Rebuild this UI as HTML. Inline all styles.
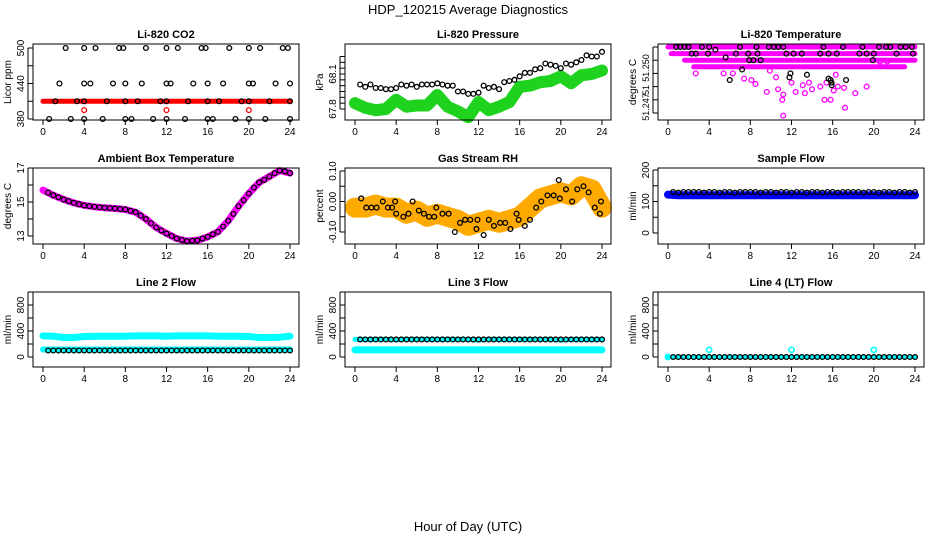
<!DOCTYPE html>
<html><head><meta charset="utf-8"><style>
html,body{margin:0;padding:0;background:#fff;}
svg{display:block;font-family:"Liberation Sans",Arial,sans-serif;}
</style></head><body>
<svg id="chart" width="936" height="540" viewBox="0 0 936 540" xmlns="http://www.w3.org/2000/svg">
<text x="468" y="14" text-anchor="middle" font-size="13">HDP_120215  Average Diagnostics</text>
<text x="468" y="531" text-anchor="middle" font-size="13">Hour of Day (UTC)</text>
</svg>
<script>
// ---- data ----
var xTicks = [0,4,8,12,16,20,24];
var circH = [0.5,1,1.5,2,2.5,3,3.5,4,4.5,5,5.5,6,6.5,7,7.5,8,8.5,9,9.5,10,10.5,11,11.5,12,12.5,13,13.5,14,14.5,15,15.5,16,16.5,17,17.5,18,18.5,19,19.5,20,20.5,21,21.5,22,22.5,23,23.5,24];
var bandH = [0,1,2,3,4,5,6,7,8,9,10,11,12,13,14,15,16,17,18,19,20,21,22,23,24];

// CO2
var co2Red = [410,410,410,410,410,410,410,410,410,410,410,410,410,410,410,410,410,410,410,410,410,410,410,410,410];
var co2RedPtsH = [4,12,20];
var co2RedPtsV = [395,395,395];
var co2BlkH = [2.2,4,5.1,7.4,7.8,10,12,13.1,15.4,15.8,18.1,20,21.1,23.3,23.8, 1.6,4,4.6,6.8,8,9.6,12,12.4,14.6,16,17.5,20,20.4,22.6,24, 1.2,3.3,4,6.2,8,9.2,11.4,12,14.1,16,17.1,19.3,20,22,24, 0.6,2.7,4,5.8,8,8.6,10.7,12,13.8,16,16.5,18.7,20,21.6,24];
var co2BlkV = [500,500,500,500,500,500,500,500,500,500,500,500,500,500,500, 440,440,440,440,440,440,440,440,440,440,440,440,440,440,440, 410,410,410,410,410,410,410,410,410,410,410,410,410,410,410, 380,380,380,380,380,380,380,380,380,380,380,380,380,380,380];

// Pressure
var presGreen = [67.85,67.81,67.79,67.80,67.88,67.82,67.83,67.83,67.92,67.82,67.78,67.73,67.86,67.79,67.82,67.86,67.99,68.00,68.03,68.04,68.08,68.02,68.09,68.10,68.13];
var presBlkH = [0.5,1,1.5,2,2.5,3,3.5,4,4.5,5,5.5,6,6.5,7,7.5,8,8.5,9,9.5,10,10.5,11,11.5,12,12.5,13,13.5,14,14.5,15,15.5,16,16.5,17,17.5,18,18.5,19,19.5,20,20.5,21,21.5,22,22.5,23,23.5,24];
var presBlkV = [68.01,67.99,68.01,67.98,67.98,67.97,67.97,67.98,68.01,68.00,68.01,67.99,68.01,68.01,68.01,68.02,68.01,68.00,68.00,67.95,67.95,67.93,67.93,67.94,68.00,67.98,67.99,67.97,68.03,68.04,68.05,68.08,68.11,68.11,68.14,68.15,68.19,68.18,68.17,68.15,68.19,68.18,68.20,68.22,68.26,68.25,68.25,68.29];

// Li-820 temperature (index units: tick 0..5)
var tRowH0 = [0,0.3,1.6,2.5];
var tRowH1 = [24,24,24,23];
var tRowV = [5,4.5,4,3.5];
var tMagH = [2.7,6.3,8.1,8.5,9.6,10.5,10.7,11.2,11.1,12.4,13.1,13.3,13.7,14.8,15.2,15.8,16.5,16.1,17.1,18.2,19.3,17.2,11.2,16.3,15.4,9.9,7.4,14.0,12.0,5.4,20.6,21.3];
var tMagV = [3.0,3.0,2.5,2.2,1.6,2.7,1.8,1.4,1.0,1.6,2.1,1.5,2.3,2.0,1.0,1.0,2.0,1.7,1.9,1.5,2.0,0.4,-0.2,2.9,2.3,3.2,2.6,1.8,2.3,3.0,3.9,3.9];
var tBlkH = [0.8,1.2,1.6,2.0,3.3,4.0,7.0,8.6,9.8,10.3,10.7,11.2,15.1,17.0,18.9,20.5,21.2,21.6,22.6,23.1,23.7, 2.3,2.7,3.9,6.6,7.8,8.7,11.5,12.2,13.0,14.8,15.6,16.4,18.6,19.3,20.0,22.2,23.8, 7.9,8.3,9.0,19.9,4.6,5.6, 6.0,7.2,11.9,11.8,13.5,15.8,15.9,17.3,15.9,15.6];
var tBlkV = [5,5,5,5,5,5,5,5,5,5,5,5,5,5,5,5,5,5,5,5,5, 4.5,4.5,4.5,4.5,4.5,4.5,4.5,4.5,4.5,4.5,4.5,4.5,4.5,4.5,4.5,4.5,4.5, 4,4,4,4,4.8,4.2, 2.5,3.3,3.0,2.7,2.9,2.5,2.1,2.5,2.3,2.6];

// Ambient box temperature
var ambBand = [15.7,15.4,15.15,14.95,14.8,14.72,14.66,14.62,14.56,14.4,14.0,13.5,13.15,12.85,12.7,12.75,12.95,13.25,13.9,14.75,15.5,16.15,16.5,16.85,16.7];
var ambBlkV = [15.55,15.4,15.28,15.15,15.05,14.95,14.87,14.8,14.76,14.72,14.69,14.66,14.64,14.62,14.59,14.56,14.48,14.4,14.2,14.0,13.75,13.5,13.32,13.15,13.0,12.85,12.77,12.7,12.72,12.75,12.85,12.95,13.1,13.25,13.55,13.9,14.3,14.75,15.1,15.5,15.85,16.15,16.3,16.5,16.7,16.85,16.8,16.7];

// Gas stream RH
var rhBand = [-0.02,-0.02,-0.01,-0.02,-0.02,-0.04,-0.03,-0.05,-0.04,-0.05,-0.06,-0.08,-0.07,-0.06,-0.07,-0.06,-0.05,-0.02,0.01,0.02,0.03,0.02,0.05,0.04,-0.02];
var rhBlkH = [0.6,1.1,1.6,2.1,2.7,3.2,3.6,3.9,4.0,4.7,5.2,5.6,6.2,6.7,7.2,7.7,7.9,8.5,9.1,9.7,10.2,10.7,11.2,11.8,11.9,12.5,13.0,13.5,14.1,14.6,15.1,15.7,15.9,16.5,17.0,17.6,18.1,18.7,19.3,19.8,19.9,20.5,21.1,21.6,22.2,22.7,23.3,23.8,23.9];
var rhBlkV = [0.01,-0.02,-0.02,-0.02,0.00,-0.02,-0.02,0.00,-0.04,-0.05,-0.04,0.00,-0.03,-0.04,-0.05,-0.05,-0.02,-0.04,-0.04,-0.10,-0.07,-0.06,-0.06,-0.09,-0.06,-0.11,-0.06,-0.08,-0.07,-0.07,-0.09,-0.04,-0.06,-0.08,-0.06,-0.02,0.00,0.02,0.02,0.07,0.01,0.04,0.00,0.04,0.05,0.03,-0.02,-0.04,0.00];

// Sample flow
var sfBand = [122,120,120,120,120,120,120,120,120,120,120,120,120,120,120,120,120,120,120,120,120,120,120,120,120];
var sfBlkV = [130,128,130,130,130,130,128,130,130,128,130,130,128,130,130,130,130,128,130,130,128,130,130,128,130,130,128,130,130,128,130,130,128,130,130,130,130,128,130,130,128,130,130,128,130,130,128,130];

// Line 2 flow
var l2Upper = [325,320,300,300,315,320,320,320,320,325,325,325,320,325,325,325,325,320,320,320,315,300,300,305,320];
var l2Lower = [115,115,115,115,115,115,115,115,115,115,115,115,115,115,115,115,115,115,115,115,115,115,115,115,115];
var l2BlkV = [100,100,100,100,100,100,100,100,100,100,100,100,100,100,100,100,100,100,100,100,100,100,100,100,100,100,100,100,100,100,100,100,100,100,100,100,100,100,100,100,100,100,100,100,100,100,100,100];

// Line 3 flow
var l3Upper = [270,270,270,270,265,270,270,270,270,270,270,270,260,270,270,270,270,270,270,270,260,270,270,270,270];
var l3Lower = [110,110,110,110,110,110,110,110,110,110,110,110,110,110,110,110,110,110,110,110,110,110,110,110,110];
var l3BlkV = [270,270,270,270,270,270,270,270,270,270,270,270,270,270,270,270,270,270,270,270,270,270,270,270,270,270,270,270,270,270,270,270,270,270,270,270,270,270,270,270,270,270,270,270,270,270,270,270];

// Line 4 flow
var l4Band = [0,0,0,0,0,0,0,0,0,0,0,0,0,0,0,0,0,0,0,0,0,0,0,0,0];
var l4CyanH = [0,4,12,20];
var l4CyanV = [0,110,110,110];
var l4BlkV = [0,0,0,0,0,0,0,0,0,0,0,0,0,0,0,0,0,0,0,0,0,0,0,0,0,0,0,0,0,0,0,0,0,0,0,0,0,0,0,0,0,0,0,0,0,0,0,0];

// ---- drawing ----
var svg = document.getElementById('chart');
var NS = 'http://www.w3.org/2000/svg';
function mk(tag, attrs, parent){
  var e = document.createElementNS(NS, tag);
  for (var k in attrs) e.setAttribute(k, attrs[k]);
  (parent||svg).appendChild(e);
  return e;
}
var colX = [[33,299],[345,611],[658,924]];
var rowY = [[44,120],[168,244],[292,367]];

function makePanel(col,row,title,ylab,v0,y0,v1,y1,ticks,labels,labelPos,labelSize){
  var L=colX[col][0], R=colX[col][1], T=rowY[row][0], B=rowY[row][1];
  var g = mk('g',{});
  
  
  var xs = function(h){ return (L+10) + h*((R-9)-(L+10))/24; };
  var ys = function(v){ return y0 + (v-v0)*(y1-y0)/(v1-v0); };
  var t = mk('text',{x:(L+R)/2,y:T-6,'text-anchor':'middle','font-size':11,'font-weight':'bold'},g);
  t.textContent = title;
  
  
  var yl = mk('text',{x:0,y:0,'text-anchor':'middle','font-size':10,transform:'translate('+(L-22)+','+((T+B)/2)+') rotate(-90)'},g);
  yl.textContent = ylab;
  
  
  var plot = mk('g',{},g);
  
  
  var box = mk('rect',{x:L,y:T,width:R-L,height:B-T,fill:'none',stroke:'#000','stroke-width':1},g);
  
  
  var xa = mk('g',{},g);
  
  
  xTicks.forEach(function(h){
    mk('line',{x1:xs(h),x2:xs(h),y1:B,y2:B+5,stroke:'#000'},xa);
    var tl = mk('text',{x:xs(h),y:B+15,'text-anchor':'middle','font-size':10},xa);
    tl.textContent = h;
    
    
  });
  var ya = mk('g',{},g);
  
  
  mk('line',{x1:L-5,x2:L-5,y1:ys(ticks[0]),y2:ys(ticks[ticks.length-1]),stroke:'#000'},ya);
  ticks.forEach(function(v){ mk('line',{x1:L-5,x2:L,y1:ys(v),y2:ys(v),stroke:'#000'},ya); });
  labels.forEach(function(lb,i){
    var py = labelPos ? labelPos[i] : ys(lb[0]);
    var tl = mk('text',{x:0,y:0,'text-anchor':'middle','font-size':labelSize||10,transform:'translate('+(L-9)+','+py+') rotate(-90)'},ya);
    tl.textContent = lb[1];
    
    
  });
  return {xs:xs,ys:ys,g:plot};
}
function band(p,hs,vs,color,w,name){
  var d=''; hs.forEach(function(h,i){ d += (i?'L':'M')+p.xs(h).toFixed(1)+','+p.ys(vs[i]).toFixed(1); });
  var e = mk('path',{d:d,fill:'none',stroke:color,'stroke-width':w,'stroke-linejoin':'round','stroke-linecap':'round'},p.g);
  
  
}
function pts(p,hs,vs,color,name,r,sw){
  hs.forEach(function(h,i){
    var c = mk('circle',{cx:p.xs(h),cy:p.ys(vs[i]),r:r||2.4,fill:'none',stroke:color,'stroke-width':sw||1.3},p.g);
    
    
  });
}

var p1 = makePanel(0,0,'Li-820 CO2','Licor ppm',380,119,500,48,[380,410,440,470,500],[[380,'380'],[440,'440'],[500,'500']]);
band(p1,bandH,co2Red,'#ff0000',5,'co2-band');
pts(p1,co2RedPtsH,co2RedPtsV,'#ff0000','co2-red-point');
pts(p1,co2BlkH,co2BlkV,'#000','co2-average-point');

var p2 = makePanel(1,0,'Li-820 Pressure','kPa',67.8,109,68.1,74,[67.8,67.85,67.9,67.95,68.0,68.05,68.1,68.15,68.2,68.25],[[67.8,'67.8'],[68.1,'68.1']]);
band(p2,bandH,presGreen,'#1ed21e',12,'pressure-band');
pts(p2,presBlkH,presBlkV,'#000','pressure-average-point');

var p3 = makePanel(2,0,'Li-820 Temperature','degrees C',0,113,5,47,[0,1,2,3,4,5],[[0,'51.250'],[0,'51'],[0,'51.247']],[68,90,107],9);
tRowV.forEach(function(v,i){ band(p3,[tRowH0[i],tRowH1[i]],[v,v],'#ff00ff',5,'temperature-row-band'); });
pts(p3,tMagH,tMagV,'#ff00ff','temperature-point');
pts(p3,tBlkH,tBlkV,'#000','temperature-average-point');

var p4 = makePanel(0,1,'Ambient Box Temperature','degrees C',13,236,17,168,[13,14,15,16,17],[[13,'13'],[15,'15'],[17,'17']]);
band(p4,bandH,ambBand,'#ff00ff',7,'ambient-band');
pts(p4,circH,ambBlkV,'#000','ambient-average-point');

var p5 = makePanel(1,1,'Gas Stream RH','percent',-0.1,232,0.1,171,[-0.1,-0.05,0,0.05,0.1],[[-0.1,'-0.10'],[0,'0.00'],[0.1,'0.10']]);
band(p5,bandH,rhBand,'#ffaa00',20,'rh-band');
pts(p5,rhBlkH,rhBlkV,'#000','rh-average-point');

var p6 = makePanel(2,1,'Sample Flow','ml/min',0,233,200,170,[0,50,100,150,200],[[0,'0'],[100,'100'],[200,'200']]);
band(p6,bandH,sfBand,'#0000ff',8,'sample-flow-band');
pts(p6,circH,sfBlkV,'#000','sample-flow-average-point');

var p7 = makePanel(0,2,'Line 2 Flow','ml/min',0,357,400,331,[0,200,400,600,800,1000],[[0,'0'],[400,'400'],[800,'800']]);
band(p7,bandH,l2Upper,'#00ffff',7,'line2-upper-band');
band(p7,bandH,l2Lower,'#00ffff',6,'line2-lower-band');
pts(p7,circH,l2BlkV,'#000','line2-average-point');

var p8 = makePanel(1,2,'Line 3 Flow','ml/min',0,357,400,331,[0,200,400,600,800,1000],[[0,'0'],[400,'400'],[800,'800']]);
band(p8,bandH,l3Upper,'#00ffff',5,'line3-upper-band');
band(p8,bandH,l3Lower,'#00ffff',7,'line3-lower-band');
pts(p8,circH,l3BlkV,'#000','line3-average-point');

var p9 = makePanel(2,2,'Line 4 (LT) Flow','ml/min',0,357,400,331,[0,200,400,600,800,1000],[[0,'0'],[400,'400'],[800,'800']]);
band(p9,bandH,l4Band,'#00ffff',4,'line4-band');
pts(p9,l4CyanH,l4CyanV,'#00ffff','line4-cyan-point',2.6,1.6);
pts(p9,circH,l4BlkV,'#000','line4-average-point');
</script>
</body></html>
